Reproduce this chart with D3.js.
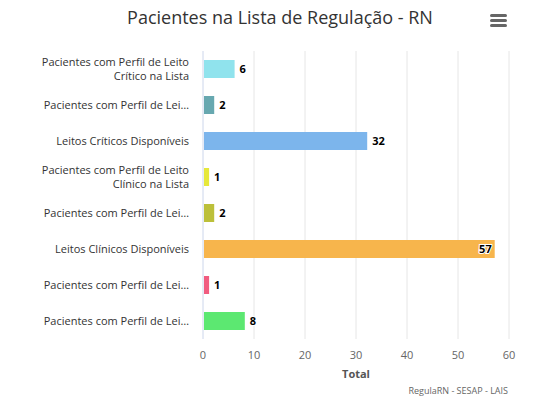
<!DOCTYPE html>
<html><head><meta charset="utf-8">
<script src="https://cdn.jsdelivr.net/npm/d3@7"></script>
<style>body{margin:0;background:#fff;font-family:"Open Sans",sans-serif}</style>
</head><body><svg id="c" width="538" height="408"></svg>
<script>
var categories = [
  ['Pacientes com Perfil de Leito', 'Crítico na Lista'],
  ['Pacientes com Perfil de Lei…'],
  ['Leitos Críticos Disponíveis'],
  ['Pacientes com Perfil de Leito', 'Clínico na Lista'],
  ['Pacientes com Perfil de Lei…'],
  ['Leitos Clínicos Disponíveis'],
  ['Pacientes com Perfil de Lei…'],
  ['Pacientes com Perfil de Lei…']
];
var values = [6, 2, 32, 1, 2, 57, 1, 8];
var colors = ['#90e3ed', '#67a8b0', '#7cb5ec', '#e6e83b', '#bcc03a', '#f7b54c', '#f15c80', '#5ce871'];
var ticks = [0, 10, 20, 30, 40, 50, 60];

var svg = d3.select('#c');
var m = {top: 51, left: 203, right: 509, bottom: 339};
var x = d3.scaleLinear().domain([0, 60]).range([m.left, m.right]);
var y = d3.scaleBand().domain(d3.range(values.length)).range([m.top, m.bottom]);

svg.append('text').attr('x', 280).attr('y', 24).attr('text-anchor', 'middle')
  .attr('font-size', 18).attr('fill', '#333').text('Pacientes na Lista de Regulação - RN');

// menu icon
[0, 5, 10].forEach(function(d) {
  svg.append('rect').attr('x', 490).attr('y', 14 + d).attr('width', 17).attr('height', 3)
    .attr('rx', 1.5).attr('fill', '#666');
});

svg.append('g').selectAll('line').data(ticks).join('line')
  .attr('x1', x).attr('x2', x).attr('y1', m.top).attr('y2', m.bottom)
  .attr('stroke', function(d) { return d === 0 ? '#ccd6eb' : '#e6e6e6'; });

svg.append('g').selectAll('text').data(ticks).join('text')
  .attr('x', x).attr('y', 359).attr('text-anchor', 'middle')
  .attr('font-size', 11).attr('fill', '#666').text(function(d) { return d; });

svg.append('text').attr('x', (m.left + m.right) / 2).attr('y', 378).attr('text-anchor', 'middle')
  .attr('font-size', 11).attr('font-weight', 'bold').attr('fill', '#555').text('Total');

var bh = 18;
var rows = svg.append('g').selectAll('g').data(values).join('g');
rows.append('rect')
  .attr('x', x(0) + 1)
  .attr('y', function(d, i) { return y(i) + y.bandwidth() / 2 - bh / 2; })
  .attr('width', function(d) { return x(d) - x(0); })
  .attr('height', bh)
  .attr('fill', function(d, i) { return colors[i]; });

rows.append('text')
  .attr('x', function(d) { return d > 50 ? x(d) - 2 : x(d) + 6; })
  .attr('y', function(d, i) { return y(i) + y.bandwidth() / 2 + 4; })
  .attr('text-anchor', function(d) { return d > 50 ? 'end' : 'start'; })
  .attr('font-size', 11).attr('font-weight', 'bold').attr('fill', '#000')
  .style('paint-order', 'stroke').attr('stroke', '#fff').attr('stroke-width', 2)
  .text(function(d) { return d; });

var labels = svg.append('g').selectAll('text').data(categories).join('text')
  .attr('text-anchor', 'end').attr('font-size', 11).attr('fill', '#333')
  .attr('y', function(d, i) { return y(i) + y.bandwidth() / 2 + 4 - (d.length - 1) * 7; });
labels.selectAll('tspan').data(function(d) { return d; }).join('tspan')
  .attr('x', 189).attr('dy', function(d, j) { return j ? 14 : 0; }).text(function(d) { return d; });

svg.append('text').attr('x', 508).attr('y', 394).attr('text-anchor', 'end')
  .attr('font-size', 9).attr('fill', '#666').text('RegulaRN - SESAP - LAIS');
</script></body></html>
